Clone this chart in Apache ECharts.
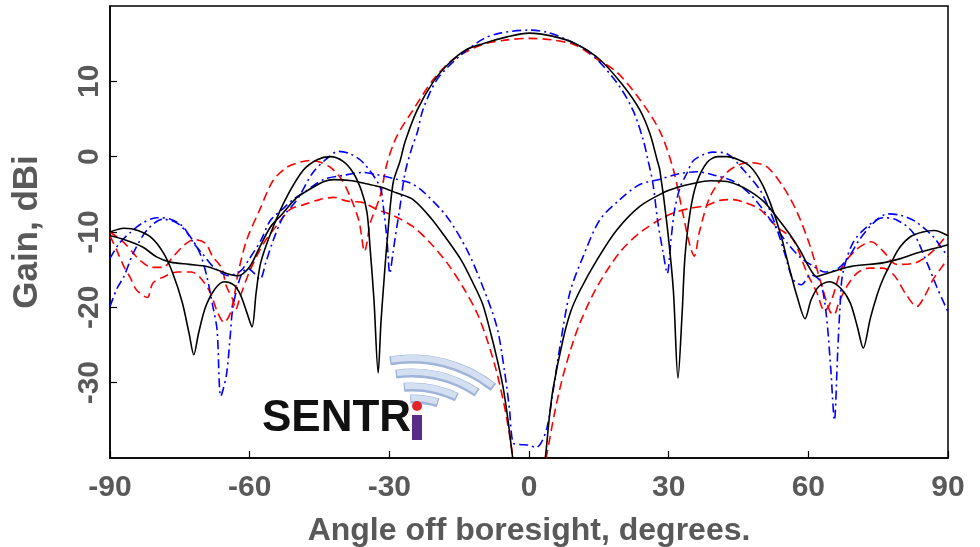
<!DOCTYPE html>
<html>
<head>
<meta charset="utf-8">
<script src="https://cdn.jsdelivr.net/npm/echarts@6/dist/echarts.min.js"></script>
<style>
  html, body { margin: 0; padding: 0; background: #fff; }
  #main { width: 980px; height: 547px; }
</style>
</head>
<body>
<div id="main"></div>
<script>
// [angle (deg), gain (dBi)]
var blackSum = [[-90,-10],[-87,-9.5],[-84,-9.8],[-81,-10.8],[-78.5,-12.8],[-76.5,-15.5],[-74.5,-19.3],[-73,-23.5],[-72,-26.3],[-71,-23.5],[-69.5,-20],[-67.5,-17.6],[-65.5,-16.6],[-63.5,-17],[-62,-18.3],[-60.6,-20.7],[-59.5,-22.6],[-58.6,-18],[-57.6,-14],[-55,-9.4],[-52,-5.3],[-48.5,-1.8],[-45.5,-0.4],[-42.7,0],[-40,-0.6],[-37.8,-2.1],[-36,-4.5],[-34.8,-7.4],[-34.1,-12.4],[-33.3,-19],[-32.4,-28.7],[-31.8,-22],[-31.3,-17.7],[-30.5,-11.4],[-29.2,-3.5],[-27.7,-0.6],[-26.6,2],[-24,6.2],[-20.5,10],[-17,12.5],[-13.5,14.2],[-9.9,15],[-4.7,15.9],[0,16.4],[5,16],[10,15],[15.2,12.9],[20,9.6],[23.8,6.2],[26,3],[27.5,-0.4],[28.1,-1.8],[29.6,-8.8],[31,-17.7],[32,-29.4],[32.9,-20.7],[33.5,-13.3],[34.6,-7.4],[36,-3.5],[38.2,-0.8],[40.5,0],[42.5,0],[45,-0.4],[47.5,-1.3],[49.8,-3.3],[51.8,-6.1],[54,-10.2],[56,-15],[57.6,-18.6],[59.3,-21.5],[60.6,-19],[62.3,-17.2],[64.6,-16.6],[67,-17.5],[69,-19.4],[70.5,-22.5],[71.8,-25.4],[73.3,-21.5],[74.8,-18.3],[76,-16.3],[78,-13.8],[79.7,-12],[82,-10.6],[84.6,-10],[87,-9.8],[90,-10.5]];

var blackDiff = [[-90,-10.5],[-87,-11],[-83,-12],[-80,-13.3],[-77,-14],[-73,-14.3],[-69,-14.6],[-65,-15.5],[-62.5,-15.8],[-60,-14.6],[-58,-12.2],[-55.5,-9.3],[-53,-7.6],[-50,-5.5],[-47,-4.3],[-44,-3.3],[-42,-3.05],[-38,-3.2],[-35,-3.6],[-32,-4],[-28.5,-4.8],[-24.9,-5.7],[-21,-8.2],[-17.6,-11],[-14.5,-13.8],[-12,-16.8],[-10,-19.5],[-8.4,-23],[-6.8,-27],[-5.6,-30.5],[-4.5,-35],[-3.5,-40],[-2,-46],[0,-50],[2,-46],[3.5,-40],[4.3,-35],[5.2,-30.7],[7.3,-24.3],[9,-20.5],[11,-17.7],[14.6,-13.7],[18.9,-9.7],[23.8,-6.6],[28.8,-4.8],[31.8,-4.1],[35,-3.6],[38.9,-3.2],[42.5,-3.3],[45,-3.8],[47.5,-4.6],[50.5,-6],[53.2,-8],[56,-10.3],[58.2,-12.4],[60,-14.5],[61.8,-15.9],[64,-15.5],[69,-14.6],[76,-14.1],[80,-13.5],[83.3,-12.8],[87,-12.2],[90,-11.7]];

var redSum = [[-90,-10.5],[-88.5,-12.5],[-87,-14.6],[-85.7,-16],[-84.3,-17.7],[-82,-18.7],[-80.8,-16.8],[-78.6,-16],[-75.5,-15.3],[-72.5,-15.3],[-70.7,-16],[-68.5,-18],[-67,-20.5],[-65.5,-22],[-64.3,-21],[-63.3,-18.5],[-62.5,-15.5],[-60.6,-11],[-57.8,-7],[-55,-3.2],[-52,-1.4],[-49,-0.7],[-47,-0.5],[-45,-0.7],[-42.7,-1.4],[-40.5,-2.8],[-38.4,-5.3],[-36.5,-8.6],[-35.3,-12.6],[-34.8,-11.4],[-34.1,-8.8],[-32,-5.3],[-30.5,-0.9],[-28.4,2.7],[-24.9,6.2],[-20.6,10.2],[-16.3,12.9],[-9.9,14.9],[-4.7,15.5],[0,15.7],[5,15.5],[10,14.8],[14.5,13],[18.9,11.2],[23.8,7.6],[28.1,3.4],[31,-1.7],[33,-7.4],[34.6,-11.9],[35.5,-13.2],[36.6,-10],[38.9,-5.3],[42.5,-2.1],[45,-1.1],[47.5,-0.8],[51,-1.3],[54.6,-4],[57.6,-7.4],[60.4,-11.9],[62.5,-16.3],[64.6,-20.5],[65.5,-21],[66.5,-19.5],[68,-17.5],[70.4,-15.5],[73,-14.8],[76,-14.8],[78.5,-15.8],[81,-18.3],[83.3,-19.9],[85,-18.5],[86.8,-16.3],[88.5,-14.8],[90,-13.5]];

var redDiff = [[-90,-10],[-87,-11.4],[-85,-12.8],[-83.5,-13.8],[-81,-14.7],[-78.6,-14.7],[-76.5,-13.3],[-74,-11.7],[-72,-11],[-69.5,-11.5],[-68,-13.2],[-66,-14.8],[-65,-17.2],[-63.6,-19],[-63,-20.3],[-62,-18.5],[-60,-15.2],[-57,-11.5],[-54,-9],[-51.3,-7],[-48.5,-6.4],[-45,-5.7],[-42,-5.4],[-39,-5.9],[-35.6,-6.1],[-32.7,-7],[-29.2,-7.8],[-24.9,-9.3],[-21.3,-11.4],[-17.6,-14.1],[-14.2,-17.3],[-11.2,-20.7],[-9,-24.3],[-6.9,-28.7],[-5,-34],[-3.4,-40],[-1.5,-47],[0,-50],[1.5,-47],[3.9,-39.3],[5.5,-34],[7.1,-29.6],[9,-25.5],[11,-22],[14.6,-17.3],[19.5,-12.7],[23.8,-10.1],[28.8,-8.1],[31.8,-7.3],[35,-6.8],[38,-6.5],[41,-5.8],[43.8,-5.7],[46,-6],[49.6,-7],[53.2,-9.3],[56.7,-11],[59.7,-15.4],[61.8,-18],[63.5,-20.5],[65,-19],[67.4,-14.5],[70.4,-12.3],[73.5,-11.3],[76,-12.5],[79,-14.3],[83,-14.1],[86.8,-12.5],[90,-10.2]];

var blueSum = [[-90,-19.9],[-88.5,-17.5],[-87,-15.9],[-85,-12.8],[-82,-9.7],[-78.6,-8.3],[-75.6,-8.8],[-72.8,-10.6],[-70.7,-12.8],[-69.2,-15.9],[-67.9,-19.9],[-67,-23],[-66.2,-31.8],[-65,-29],[-64.2,-24],[-63.6,-20],[-62,-16],[-60.5,-14.8],[-59,-15.5],[-57.8,-16.3],[-56.5,-14],[-55,-11.2],[-52.8,-8],[-49.8,-5.7],[-46.4,-2.1],[-43.5,-0.3],[-41,0.7],[-38.5,0.4],[-35.6,-0.8],[-32,-4],[-31.3,-6.6],[-30.5,-11],[-29.9,-15.5],[-29.2,-12.7],[-28.8,-11],[-27.7,-6.6],[-26.6,-2.1],[-25.1,1.3],[-24,3.2],[-22.8,6.2],[-19.8,10.2],[-15,13.3],[-9.9,15.6],[-6.2,16.4],[0,16.8],[4,16.5],[8.2,15.5],[13.1,13.8],[18.9,9.8],[22.3,6.2],[24.5,2.3],[25.5,-0.3],[26.6,-3.5],[27.7,-8.8],[28.8,-12.7],[29.7,-15.5],[30.5,-11],[31.3,-7],[32.5,-4],[34,-2.1],[35.2,-0.6],[37.5,0.3],[39.5,0.6],[42.5,0.4],[46,-1.7],[49.6,-4.4],[51.5,-6.8],[53.3,-9.7],[55,-13],[56.7,-16.3],[58.5,-17],[60.5,-15.7],[62.5,-16.5],[63.8,-20.7],[64.8,-28],[65.6,-35],[66.3,-26],[66.8,-20],[67.4,-15.5],[69.6,-11.4],[72.6,-9.3],[76,-8.1],[79,-8.4],[82.5,-10.1],[85.5,-14.1],[87.6,-17.3],[90,-20.6]];

var blueDiff = [[-90,-13.5],[-88,-11.5],[-85.7,-10.1],[-83,-8.8],[-80,-8.1],[-77,-8.3],[-74.3,-9.3],[-72,-11.5],[-70,-13],[-67.5,-14.8],[-64.5,-15.8],[-62,-15.2],[-60,-13.5],[-57.5,-11],[-55.6,-8.5],[-53,-7],[-50.7,-5.7],[-48.5,-4.8],[-44,-3],[-40,-2.5],[-35.6,-2.1],[-32.6,-2.4],[-28.4,-3],[-25.5,-3.5],[-22.8,-4.6],[-17.6,-8],[-13.3,-12.4],[-9.9,-17.3],[-6.9,-22.6],[-5.2,-28.7],[-4.2,-33.5],[-3.4,-38],[-2,-38.2],[0,-38.3],[1.5,-38.6],[2.6,-38],[3.9,-35.9],[5.2,-31],[6.7,-25],[8.8,-18],[11.6,-13.3],[15.2,-8.4],[19.5,-5.7],[23.8,-3.7],[28.1,-3],[32,-2.3],[36,-2],[40,-2.5],[44,-3.3],[48,-5.3],[52,-8.5],[55.5,-11.5],[58.5,-13.5],[61,-14.5],[63.5,-15.3],[66,-15],[68.5,-13.5],[71,-11],[74,-8.8],[77,-7.6],[80,-7.8],[83,-8.6],[86.8,-10.6],[88.5,-12],[90,-13.3]];

var textGray = '#595959';
var fontName = '"Liberation Sans", Arial, sans-serif';

function curve(name, data, color, dash) {
  return {
    name: name,
    type: 'line',
    data: data,
    showSymbol: false,
    smooth: 0.3,
    clip: true,
    lineStyle: { color: color, width: 1.6, type: dash }
  };
}

// logo band: darker rim under a lighter fill
function band(r, a0, a1) {
  return [
    { type: 'arc', z: 0, shape: { cx: 412, cy: 490, r: r, startAngle: a0, endAngle: a1 }, style: { stroke: '#9fb4d8', lineWidth: 9, fill: null } },
    { type: 'arc', z: 0, shape: { cx: 412, cy: 489, r: r, startAngle: a0 + 0.01, endAngle: a1 - 0.01 }, style: { stroke: '#d4e0f1', lineWidth: 6, fill: null } }
  ];
}

var myChart = echarts.init(document.getElementById('main'));
var option = {
  animation: false,
  backgroundColor: '#fff',
  grid: {
    left: 110, right: 32, top: 6, bottom: 89,
    show: true, borderColor: '#000', borderWidth: 1.5,
    outerBoundsMode: 'none'
  },
  xAxis: {
    type: 'value',
    min: -90, max: 90, interval: 30,
    axisLine: { show: true, onZero: false, lineStyle: { color: '#000', width: 1.5 } },
    axisTick: { inside: true, length: 7, lineStyle: { color: '#000', width: 1.2 } },
    splitLine: { show: false },
    axisLabel: { color: textGray, fontSize: 30, fontWeight: 'bold', fontFamily: fontName, margin: 15 },
    name: 'Angle off boresight, degrees.',
    nameLocation: 'middle',
    nameGap: 57,
    nameTextStyle: { color: textGray, fontSize: 32, fontWeight: 'bold', fontFamily: fontName }
  },
  yAxis: {
    type: 'value',
    min: -40, max: 20, interval: 10,
    axisLine: { show: true, onZero: false, lineStyle: { color: '#000', width: 1.5 } },
    axisTick: { inside: true, length: 7, lineStyle: { color: '#000', width: 1.2 } },
    splitLine: { show: false },
    axisLabel: {
      rotate: 90, showMinLabel: false, showMaxLabel: false,
      color: textGray, fontSize: 30, fontWeight: 'bold', fontFamily: fontName, margin: 5
    },
    name: 'Gain, dBi',
    nameLocation: 'middle',
    nameRotate: 90,
    nameGap: 65,
    nameTextStyle: { color: textGray, fontSize: 35, fontWeight: 'bold', fontFamily: fontName }
  },
  graphic: [].concat(
    band(131, -1.74, -0.90),
    band(117, -1.71, -0.98),
    band(103, -1.65, -1.12),
    band(91, -1.59, -1.28),
    [
      { type: 'text', z: 0, x: 262, y: 441, style: { text: 'SENTR', fill: '#111', font: 'bold 44px ' + fontName, verticalAlign: 'bottom' } },
      { type: 'rect', z: 0, shape: { x: 412, y: 415, width: 10, height: 25 }, style: { fill: '#5a2d8a' } },
      { type: 'circle', z: 0, shape: { cx: 417, cy: 406, r: 5 }, style: { fill: '#e0262d' } }
    ]
  ),
  series: [
    curve('Sum (red)', redSum, '#ff0000', [9, 5]),
    curve('Difference (red)', redDiff, '#ff0000', [9, 5]),
    curve('Sum (blue)', blueSum, '#0000ff', [9, 4, 2, 4]),
    curve('Difference (blue)', blueDiff, '#0000ff', [9, 4, 2, 4]),
    curve('Sum (black)', blackSum, '#000000', 'solid'),
    curve('Difference (black)', blackDiff, '#000000', 'solid')
  ]
};
myChart.setOption(option);
</script>
</body>
</html>
